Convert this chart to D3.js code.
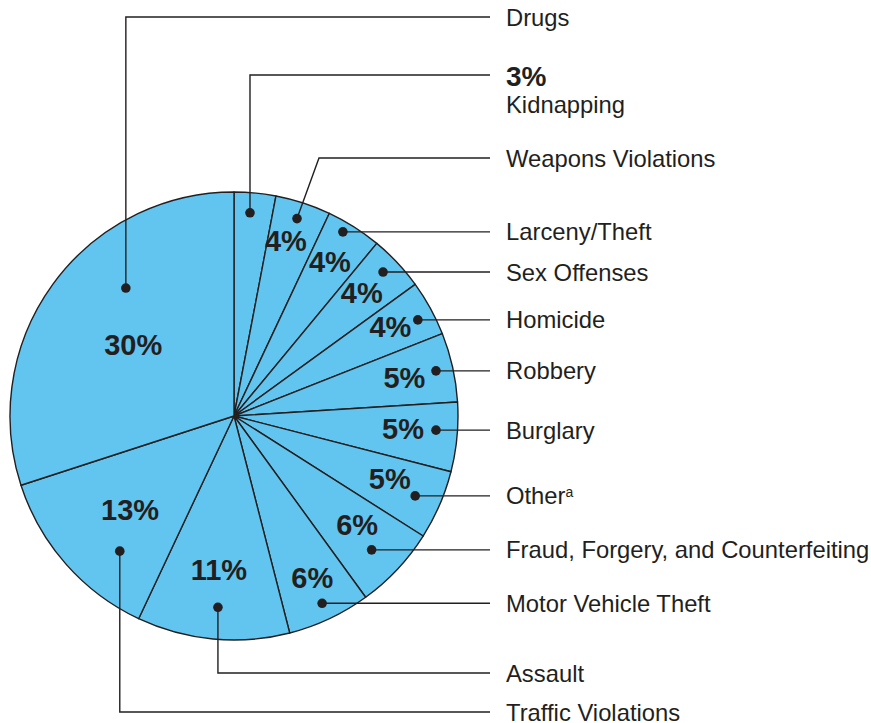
<!DOCTYPE html>
<html>
<head>
<meta charset="utf-8">
<script src="https://cdn.jsdelivr.net/npm/d3@7"></script>
<style>
  html, body { margin: 0; padding: 0; background: #fff; }
  svg { display: block; font-family: "Liberation Sans", Arial, Helvetica, sans-serif; }
</style>
</head>
<body>
<svg id="chart" width="871" height="723"></svg>
<script>
// ---- data (clockwise from 12 o'clock) ----
const categories = ["Kidnapping", "Weapons Violations", "Larceny/Theft", "Sex Offenses", "Homicide",
  "Robbery", "Burglary", "Other", "Fraud, Forgery, and Counterfeiting", "Motor Vehicle Theft",
  "Assault", "Traffic Violations", "Drugs"];
const values = [3, 4, 4, 4, 4, 5, 5, 5, 6, 6, 11, 13, 30];
const footnotes = ["", "", "", "", "", "", "", "a", "", "", "", "", ""];

// ---- annotation layout (angle offset in degrees from slice middle, radius fraction) ----
const dotLayout = [[-0.9, 0.91], [-0.3, 0.925], [-1.8, 0.955], [-0.8, 0.925], [1.2, 0.926], [0, 0.924],
  [-1.4, 0.904], [0.4, 0.884], [1, 0.857], [0, 0.924], [-0.6, 0.857], [-8.4, 0.79], [13.8, 0.748]];
const pctLayout = [null, [-1.5, 0.815], [-0.6, 0.812], [-0.7, 0.792], [-0.9, 0.804], [-0.2, 0.78],
  [-1, 0.757], [-1.4, 0.75], [-1.9, 0.732], [-0.7, 0.80], [0.2, 0.69], [-0.7, 0.625], [-0.5, 0.553]];
const leaderY = [75, 158, null, null, null, null, null, null, null, null, 673, 712, 17];
const elbowShift = [0, 22, 0, 0, 0, 0, 0, 0, 0, 0, 0, 0, 0];
const outsidePct = [true, false, false, false, false, false, false, false, false, false, false, false, false];

const cx = 234, cy = 416, R = 224;
const lineEndX = 490, textX = 506;
const ink = "#231f20", fill = "#62c5ef";

const svg = d3.select("#chart");
const g = svg.append("g");

const pie = d3.pie().sort(null).value(d => d).startAngle(0).endAngle(2 * Math.PI);
const arcs = pie(values);
const arc = d3.arc().innerRadius(0).outerRadius(R);

g.append("g").attr("transform", `translate(${cx},${cy})`)
  .selectAll("path").data(arcs).join("path")
  .attr("d", arc)
  .attr("fill", fill)
  .attr("stroke", ink)
  .attr("stroke-width", 1.4)
  .attr("stroke-linejoin", "round");

function polar(a, r) { return [cx + r * Math.sin(a), cy - r * Math.cos(a)]; }
const deg = Math.PI / 180;

const items = arcs.map((d, i) => {
  const mid = (d.startAngle + d.endAngle) / 2;
  const dot = polar(mid + dotLayout[i][0] * deg, dotLayout[i][1] * R);
  const pct = pctLayout[i] ? polar(mid + pctLayout[i][0] * deg, pctLayout[i][1] * R) : null;
  const ly = leaderY[i] == null ? dot[1] : leaderY[i];
  return { i, d, dot, pct, ly };
});

// leaders
g.append("g").selectAll("path").data(items).join("path")
  .attr("d", it => {
    if (leaderY[it.i] == null) return `M${it.dot[0]},${it.dot[1]}H${lineEndX}`;
    return `M${it.dot[0]},${it.dot[1]}L${it.dot[0] + elbowShift[it.i]},${it.ly}H${lineEndX}`;
  })
  .attr("fill", "none")
  .attr("stroke", ink)
  .attr("stroke-width", 1.4);

// dots
g.append("g").selectAll("circle").data(items).join("circle")
  .attr("cx", it => it.dot[0]).attr("cy", it => it.dot[1])
  .attr("r", 4.8).attr("fill", ink);

// inner percentage labels
g.append("g").selectAll("text").data(items.filter(it => it.pct)).join("text")
  .attr("x", it => it.pct[0]).attr("y", it => it.pct[1])
  .attr("dy", "0.36em")
  .attr("text-anchor", "middle")
  .attr("font-size", 29).attr("font-weight", "bold")
  .attr("fill", ink)
  .text(it => values[it.i] + "%");

// category labels
const lab = g.append("g").selectAll("g").data(items).join("g")
  .attr("transform", it => `translate(${textX},${it.ly})`);

lab.each(function (it) {
  const s = d3.select(this);
  let y = 0;
  if (outsidePct[it.i]) {
    s.append("text").attr("y", 0).attr("dy", "0.38em")
      .attr("font-size", 28).attr("font-weight", "bold").attr("fill", ink)
      .text(values[it.i] + "%");
    y = 29;
  }
  const t = s.append("text").attr("y", y).attr("dy", "0.36em")
    .attr("font-size", 23.8).attr("fill", ink)
    .text(categories[it.i]);
  if (footnotes[it.i]) {
    t.append("tspan").attr("font-size", 14).attr("dy", "-0.55em").text(footnotes[it.i]);
  }
});
</script>
</body>
</html>
